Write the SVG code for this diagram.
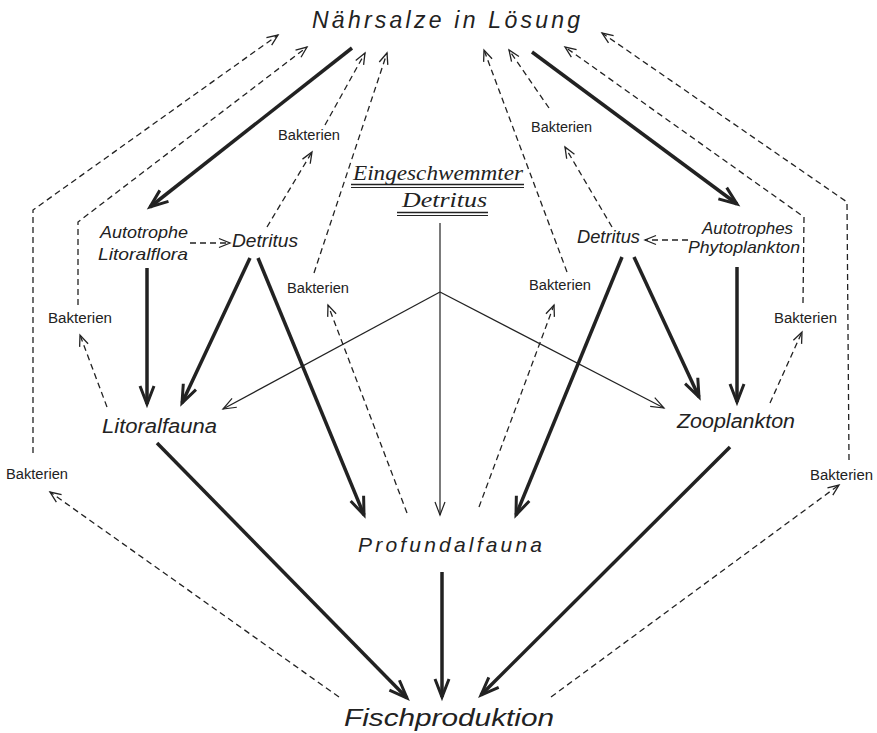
<svg xmlns="http://www.w3.org/2000/svg" width="877" height="733" viewBox="0 0 877 733">
<defs>
<marker id="mThick" markerUnits="userSpaceOnUse" markerWidth="40" markerHeight="40" refX="0" refY="0" orient="auto" viewBox="-20 -20 40 40" overflow="visible">
<path d="M-18,-7 L0,0 L-18,7" fill="none" stroke="#222" stroke-width="3" stroke-linejoin="miter"/>
</marker>
<marker id="mThin" markerUnits="userSpaceOnUse" markerWidth="30" markerHeight="30" refX="0" refY="0" orient="auto" viewBox="-15 -15 30 30" overflow="visible">
<path d="M-13,-5 L0,0 L-13,5" fill="none" stroke="#222" stroke-width="1.2"/>
</marker>
<marker id="mDash" markerUnits="userSpaceOnUse" markerWidth="30" markerHeight="30" refX="0" refY="0" orient="auto" viewBox="-15 -15 30 30" overflow="visible">
<path d="M-11,-4.5 L0,0 L-11,4.5" fill="none" stroke="#222" stroke-width="1.3"/>
</marker>
</defs>
<style>
.thick{fill:none;stroke:#222;stroke-width:3.5;marker-end:url(#mThick)}
.thin{fill:none;stroke:#222;stroke-width:1.2}
.thinA{fill:none;stroke:#222;stroke-width:1.2;marker-end:url(#mThin)}
.dash{fill:none;stroke:#222;stroke-width:1.3;stroke-dasharray:6 4;marker-end:url(#mDash)}
.lab{font-family:"Liberation Sans","DejaVu Sans",sans-serif;font-style:italic;fill:#222}
.bak{font-family:"Liberation Sans","DejaVu Sans",sans-serif;font-size:14px;fill:#222}
.ser{font-family:"Liberation Serif","DejaVu Serif",serif;font-style:italic;font-size:22px;fill:#222}
.ul{stroke:#222;fill:none}
</style>
<rect width="877" height="733" fill="#fff"/>
<g id="connectors">
<path class="thick" d="M352,48 L150,207"/>
<path class="thick" d="M532,52 L737,204"/>
<path class="thick" d="M147,268 L147,404"/>
<path class="thick" d="M250,258 L182,403"/>
<path class="thick" d="M258,258 L364,515"/>
<path class="thick" d="M622,257 L516,515"/>
<path class="thick" d="M634,257 L699,397"/>
<path class="thick" d="M737,267 L737,402"/>
<path class="thick" d="M157,443 L407,698"/>
<path class="thick" d="M442,572 L442,697"/>
<path class="thick" d="M730,447 L481,695"/>
<path class="thinA" d="M440,223 L440,515"/>
<path class="thinA" d="M440,292 L223,409"/>
<path class="thinA" d="M440,292 L664,408"/>
<path class="dash" d="M33,453 L33,210 L278,35"/>
<path class="dash" d="M78,305 L78,222 L307,47"/>
<path class="dash" d="M267,227 L312,152"/>
<path class="dash" d="M325,125 L365,53"/>
<path class="dash" d="M314,273 L387,53"/>
<path class="dash" d="M407,513 L328,305"/>
<path class="dash" d="M107,407 L80,335"/>
<path class="dash" d="M339,697 L50,492"/>
<path class="dash" d="M190,243 L230,243"/>
<path class="dash" d="M849,460 L847,202 L602,33"/>
<path class="dash" d="M803,303 L804,217 L565,47"/>
<path class="dash" d="M612,227 L565,147"/>
<path class="dash" d="M549,108 L509,50"/>
<path class="dash" d="M567,272 L484,50"/>
<path class="dash" d="M479,507 L554,305"/>
<path class="dash" d="M770,403 L802,332"/>
<path class="dash" d="M551,697 L839,485"/>
<path class="dash" d="M688,240 L645,240"/>
</g>
<g id="n-naehrsalze"><text class="lab" x="312" y="28" font-size="23" textLength="268" lengthAdjust="spacing">Nährsalze in Lösung</text></g>
<g id="n-eingeschwemmter">
<text class="ser" x="353" y="180" textLength="170" lengthAdjust="spacingAndGlyphs">Eingeschwemmter</text>
<line class="ul" x1="351" y1="184.5" x2="524" y2="184.5" stroke-width="1.5"/>
<line class="ul" x1="351" y1="187.5" x2="524" y2="187.5" stroke-width="1"/>
<text class="ser" x="402" y="207" textLength="85" lengthAdjust="spacingAndGlyphs">Detritus</text>
<line class="ul" x1="397" y1="212.5" x2="488" y2="212.5" stroke-width="1.5"/>
<line class="ul" x1="397" y1="215.5" x2="488" y2="215.5" stroke-width="1"/>
</g>
<g id="n-litoralflora">
<text class="lab" x="100" y="238" font-size="17" textLength="88" lengthAdjust="spacingAndGlyphs">Autotrophe</text>
<text class="lab" x="98" y="260" font-size="17" textLength="90" lengthAdjust="spacingAndGlyphs">Litoralflora</text>
</g>
<g id="n-detritus-l"><text class="lab" x="232" y="247" font-size="19" textLength="66" lengthAdjust="spacingAndGlyphs">Detritus</text></g>
<g id="n-detritus-r"><text class="lab" x="577" y="243" font-size="19" textLength="63" lengthAdjust="spacingAndGlyphs">Detritus</text></g>
<g id="n-phytoplankton">
<text class="lab" x="702" y="234" font-size="16" textLength="91" lengthAdjust="spacingAndGlyphs">Autotrophes</text>
<text class="lab" x="688" y="253" font-size="17" textLength="112" lengthAdjust="spacingAndGlyphs">Phytoplankton</text>
</g>
<g id="n-litoralfauna"><text class="lab" x="102" y="433" font-size="20" textLength="115" lengthAdjust="spacingAndGlyphs">Litoralfauna</text></g>
<g id="n-zooplankton"><text class="lab" x="677" y="428" font-size="20" textLength="118" lengthAdjust="spacingAndGlyphs">Zooplankton</text></g>
<g id="n-profundalfauna"><text class="lab" x="358" y="552" font-size="21" textLength="184" lengthAdjust="spacing">Profundalfauna</text></g>
<g id="n-fischproduktion"><text class="lab" x="344" y="726" font-size="24" textLength="210" lengthAdjust="spacingAndGlyphs">Fischproduktion</text></g>
<g id="n-bakterien-1"><text class="bak" x="278" y="140" textLength="62" lengthAdjust="spacingAndGlyphs">Bakterien</text></g>
<g id="n-bakterien-2"><text class="bak" x="287" y="293" textLength="62" lengthAdjust="spacingAndGlyphs">Bakterien</text></g>
<g id="n-bakterien-3"><text class="bak" x="48" y="323" textLength="64" lengthAdjust="spacingAndGlyphs">Bakterien</text></g>
<g id="n-bakterien-4"><text class="bak" x="6" y="479" textLength="62" lengthAdjust="spacingAndGlyphs">Bakterien</text></g>
<g id="n-bakterien-5"><text class="bak" x="531" y="132" textLength="61" lengthAdjust="spacingAndGlyphs">Bakterien</text></g>
<g id="n-bakterien-6"><text class="bak" x="529" y="290" textLength="62" lengthAdjust="spacingAndGlyphs">Bakterien</text></g>
<g id="n-bakterien-7"><text class="bak" x="774" y="323" textLength="63" lengthAdjust="spacingAndGlyphs">Bakterien</text></g>
<g id="n-bakterien-8"><text class="bak" x="810" y="480" textLength="63" lengthAdjust="spacingAndGlyphs">Bakterien</text></g>
</svg>
